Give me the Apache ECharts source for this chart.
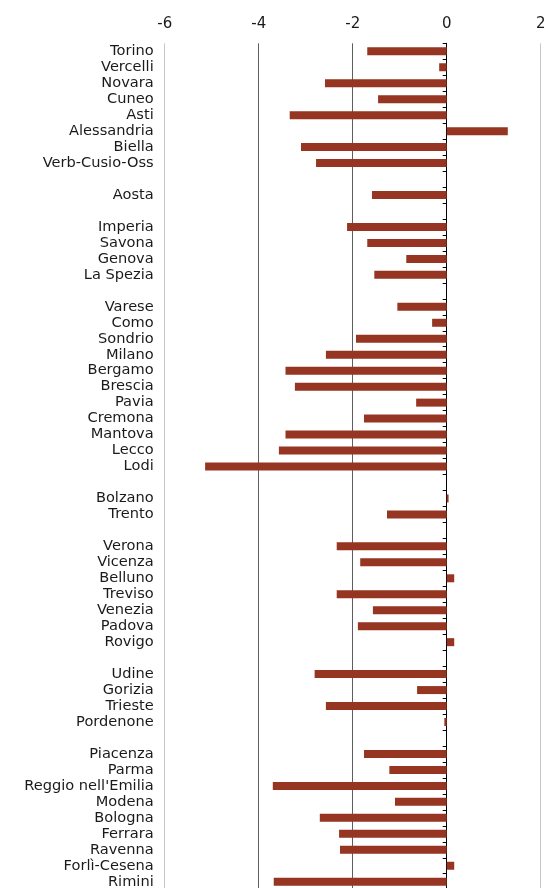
<!DOCTYPE html>
<html>
<head>
<meta charset="utf-8">
<script src="https://cdn.jsdelivr.net/npm/echarts@6/dist/echarts.min.js"></script>
<style>
html,body{margin:0;padding:0;background:#fff;}
#c{width:548px;height:888px;}
</style>
</head>
<body>
<div id="c"></div>
<script>
var categories = [
  'Torino','Vercelli','Novara','Cuneo','Asti','Alessandria','Biella','Verb-Cusio-Oss',
  '',
  'Aosta',
  ' ',
  'Imperia','Savona','Genova','La Spezia',
  '  ',
  'Varese','Como','Sondrio','Milano','Bergamo','Brescia','Pavia','Cremona','Mantova','Lecco','Lodi',
  '   ',
  'Bolzano','Trento',
  '    ',
  'Verona','Vicenza','Belluno','Treviso','Venezia','Padova','Rovigo',
  '     ',
  'Udine','Gorizia','Trieste','Pordenone',
  '      ',
  'Piacenza','Parma',"Reggio nell'Emilia",'Modena','Bologna','Ferrara','Ravenna','Forlì-Cesena','Rimini'
];
var values = [
  -1.69,-0.16,-2.59,-1.46,-3.34,1.30,-3.10,-2.78,
  null,
  -1.59,
  null,
  -2.12,-1.69,-0.86,-1.54,
  null,
  -1.05,-0.31,-1.93,-2.57,-3.43,-3.23,-0.65,-1.76,-3.43,-3.57,-5.14,
  null,
  0.04,-1.27,
  null,
  -2.34,-1.84,0.16,-2.34,-1.57,-1.89,0.16,
  null,
  -2.81,-0.63,-2.57,-0.05,
  null,
  -1.76,-1.22,-3.70,-1.10,-2.70,-2.29,-2.27,0.16,-3.68
];
var xTicks = {min: -6, max: 2, interval: 2};

var chart = echarts.init(document.getElementById('c'), null, {renderer: 'canvas'});
var font = 'DejaVu Sans';
chart.setOption({
  animation: false,
  backgroundColor: '#ffffff',
  grid: {left: 164.7, width: 376, top: 43.3, height: 846.4, containLabel: false, outerBoundsMode: 'none'},
  xAxis: {
    type: 'value', position: 'top',
    min: xTicks.min, max: xTicks.max, interval: xTicks.interval,
    axisLine: {show: false}, axisTick: {show: false},
    axisLabel: {fontFamily: font, fontSize: 15, color: '#1a1a1a', margin: 12},
    splitLine: {show: true, showMinLine: true, showMaxLine: true,
      lineStyle: {color: ['#c8c8c8', '#5e5e5e', '#5e5e5e', '#000000', '#c8c8c8'], width: 1}}
  },
  yAxis: [
    {
      type: 'category', data: categories, inverse: true, position: 'left',
      axisLine: {show: false, onZero: false}, axisTick: {show: false},
      axisLabel: {fontFamily: font, fontSize: 14.6, color: '#1a1a1a', margin: 11, interval: 0, padding: [3, 0, 0, 0]},
      splitLine: {show: false}
    },
    {
      type: 'category', data: categories, inverse: true, position: 'left',
      axisLine: {show: true, onZero: true, lineStyle: {color: '#000', width: 1}},
      axisTick: {show: true, length: 4, lineStyle: {color: '#000', width: 1}, interval: 0},
      axisLabel: {show: false},
      splitLine: {show: false}
    }
  ],
  series: [{
    type: 'bar', yAxisIndex: 0, data: values, barWidth: 8,
    itemStyle: {color: '#953522'}, z: 1
  }]
});
</script>
</body>
</html>
